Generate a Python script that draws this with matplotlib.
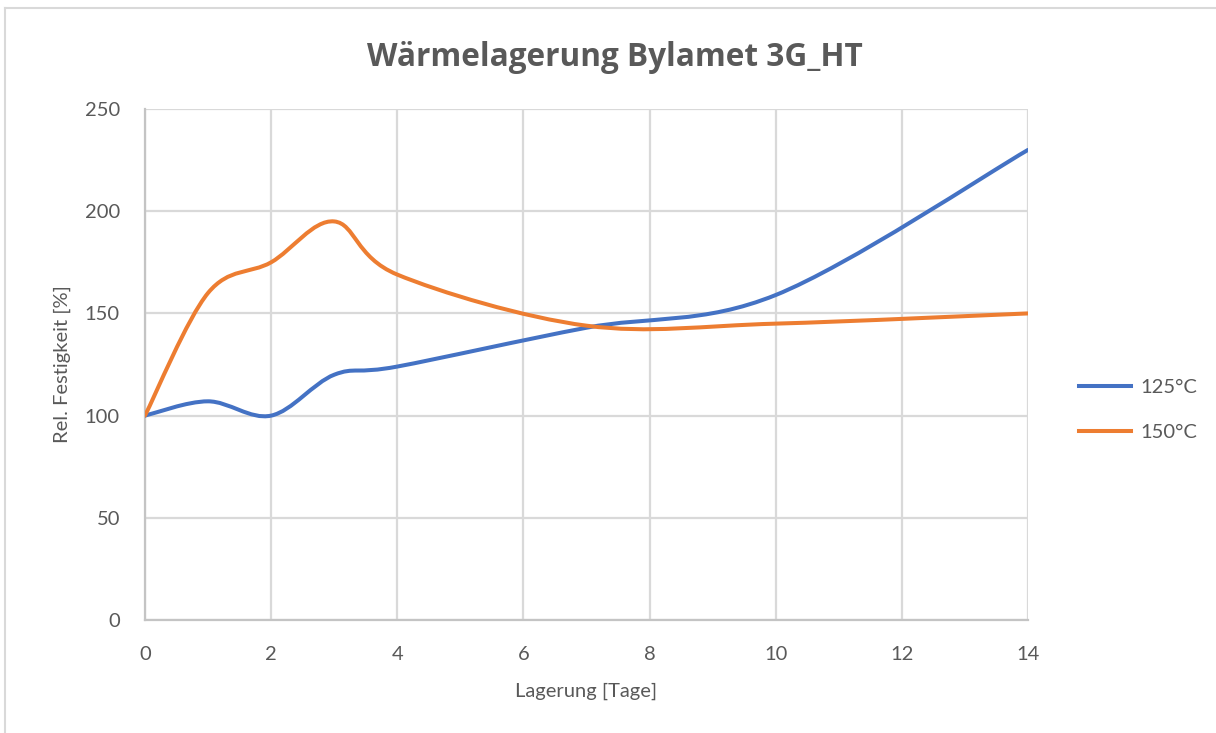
import numpy as np
import matplotlib
matplotlib.use("Agg")
import matplotlib.pyplot as plt
from matplotlib.path import Path
from matplotlib.patches import PathPatch
from matplotlib.lines import Line2D

plt.rcParams["font.family"] = ["Lato", "DejaVu Sans"]

tage = [0, 1, 2, 3, 4, 7, 10, 14]
werte_125 = [100, 107, 100, 120, 124, 143, 159, 230]
werte_150 = [100, 160, 175, 195, 169, 144, 145, 150]
serien = ["125°C", "150°C"]
farben = ["#4472C4", "#ED7D31"]
titel = "Wärmelagerung Bylamet 3G_HT"


def glatte_linie(xs, ys):
    # Excel-artige Glaettung: kubische Bezier-Segmente
    pts = np.column_stack([xs, ys]).astype(float)
    n = len(pts)
    verts = [pts[0]]
    codes = [Path.MOVETO]
    for i in range(n - 1):
        p0 = pts[i - 1] if i > 0 else pts[i]
        p1 = pts[i]
        p2 = pts[i + 1]
        p3 = pts[i + 2] if i + 2 < n else pts[i + 1]
        c1 = p1 + (p2 - p0) / 6
        c2 = p2 - (p3 - p1) / 6
        verts += [c1, c2, p2]
        codes += [Path.CURVE4] * 3
    return Path(verts, codes)


fig = plt.figure(figsize=(12.16, 7.33), dpi=100)
ax = fig.add_axes([0.1192, 0.1541, 0.7262, 0.6972])

for werte, name, farbe in zip([werte_125, werte_150], serien, farben):
    patch = PathPatch(glatte_linie(tage, werte), facecolor="none", edgecolor=farbe,
                      lw=2.9, capstyle="round", zorder=3)
    ax.add_patch(patch)
    ax.plot([], [], color=farbe, lw=2.9, label=name)

ax.set_xlim(0, 14)
ax.set_ylim(0, 250)
ax.set_xticks(range(0, 15, 2))
ax.set_yticks(range(0, 251, 50))
ax.grid(True, color="#d9d9d9", lw=1.6)
ax.set_axisbelow(True)
for s in ["top", "right"]:
    ax.spines[s].set_visible(False)
for s in ["bottom", "left"]:
    ax.spines[s].set_color("#c4c4c4")
    ax.spines[s].set_linewidth(1.6)
ax.tick_params(length=0, labelsize=14.5, labelcolor="#595959")
ax.tick_params(axis="x", pad=19)
ax.tick_params(axis="y", pad=18)

ax.set_xlabel("Lagerung [Tage]", fontsize=14.5, color="#595959", labelpad=14)
ax.set_ylabel("Rel. Festigkeit [%]", fontsize=14.5, color="#595959", labelpad=10)
fig.text(0.5054, 0.922, titel, ha="center", va="center", fontsize=22.7,
         fontweight="bold", color="#595959", family=["Open Sans", "DejaVu Sans"])

ax.legend(loc="center left", bbox_to_anchor=(0.8723, 0.4407), bbox_transform=fig.transFigure,
          frameon=False, fontsize=14.5, labelcolor="#595959", handlelength=2.6,
          handletextpad=0.45, labelspacing=1.4)

# Rahmen des Diagrammbereichs
fig.add_artist(Line2D([0.004, 1.0], [0.989, 0.989], color="#d9d9d9", lw=1.5,
                      transform=fig.transFigure))
fig.add_artist(Line2D([0.004, 0.004], [0.0, 0.989], color="#d9d9d9", lw=1.5,
                      transform=fig.transFigure))

fig.savefig("out.png", dpi=100)
